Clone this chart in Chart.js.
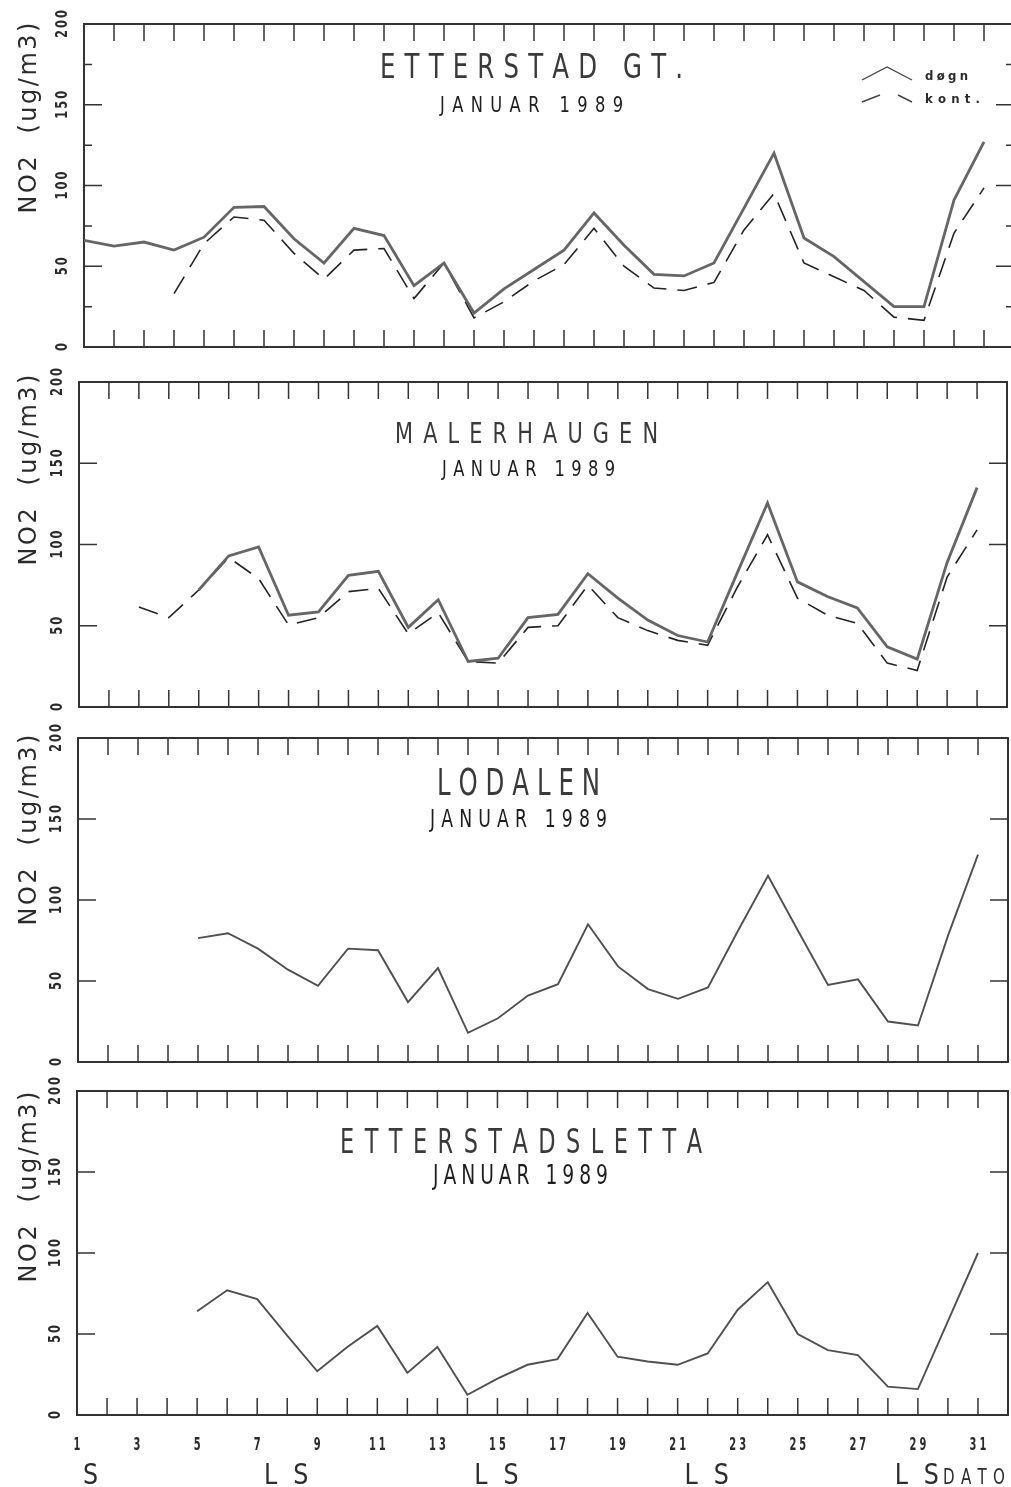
<!DOCTYPE html>
<html>
<head>
<meta charset="utf-8">
<script src="https://cdn.jsdelivr.net/npm/chart.js@4.4.1/dist/chart.umd.min.js"></script>
<style>
  html, body { margin: 0; padding: 0; background: #ffffff; }
  body { width: 1011px; height: 1487px; overflow: hidden; position: relative; }
  canvas { position: absolute; }
</style>
</head>
<body>
<canvas id="p1"></canvas>
<canvas id="p2"></canvas>
<canvas id="p3"></canvas>
<canvas id="p4"></canvas>
<script>
// Data (NO2, ug/m3, January 1989)
const days = [1, 2, 3, 4, 5, 6, 7, 8, 9, 10, 11, 12, 13, 14, 15, 16, 17, 18, 19, 20, 21, 22, 23, 24, 25, 26, 27, 28, 29, 30, 31];
const yTickLabels = [0, 50, 100, 150, 200];
const xTickLabels = [1, 3, 5, 7, 9, 11, 13, 15, 17, 19, 21, 23, 25, 27, 29, 31];
const weekendDays = [1, 7, 8, 14, 15, 21, 22, 28, 29];
const weekendLetters = ['S', 'L', 'S', 'L', 'S', 'L', 'S', 'L', 'S'];

const etterstadDogn = [66, 62.5, 65, 60, 68, 86.5, 87, 67, 52, 73.5, 69, 38, 52, 21, 36, 48, 60, 83, 63, 45, 44, 52, 86, 120, 67.5, 56, 40.5, 25, 25, 91, 127];
const etterstadKont = [null, null, null, 33, 64, 80.5, 78.5, 58, 42, 60, 61, 30, 52, 18, 28, 41, 51, 73.5, 50, 36.5, 35, 40, 72.5, 95, 52, 43.5, 35, 18.5, 16.5, 70.5, 98.5];
const malerDogn = [null, null, null, null, 72, 93, 98.5, 56.5, 58.5, 81, 83.5, 49, 66, 28, 30, 55, 57, 82, 67, 53.5, 44, 40, 83, 125.5, 77, 68, 61, 37, 29.5, 89, 135];
const malerKont = [null, null, 61.5, 55, 72, 92, 79, 50.5, 55, 71, 73, 45, 58, 28, 27, 49, 50, 75, 55, 47, 41, 38, 74, 106, 67, 56.5, 51.5, 27, 22.5, 80, 109];
const lodalenDogn = [null, null, null, null, 76.5, 79.5, 70, 57, 47, 70, 69, 37, 58, 18, 27, 41, 48, 85, 59, 45, 39, 46, 81, 115, 81, 47.5, 51, 25, 22.5, 78, 128];
const slettaDogn = [null, null, null, null, 64, 77, 71.5, 49, 27, 42, 55, 26, 42, 12.5, 22.5, 31, 34.5, 63, 36, 33, 31, 38, 65, 82, 50, 40, 37, 17.5, 16, 58, 100];

const FONT = "'DejaVu Sans', 'Liberation Sans', sans-serif";
const INK = '#2b2b2b';

const solid = (values, color, width) => ({ values, color, width, dash: [] });
const dashed = (values) => ({ values, color: '#242424', width: 1.6, dash: [20, 11] });

// page layout of the four panels (page pixels)
const panels = [
  { id: 'p1', left: 0, top: 0, width: 1030, height: 370, area: { l: 84, r: 1014, t: 24, b: 347 },
    title: ['ETTERSTAD GT.', 380, 683, 78, 34, 0.72], sub: ['JANUAR 1989', 440, 623, 112, 22, 0.74],
    minor: true, legend: true, axisY: 118,
    series: [solid(etterstadDogn, '#666666', 2.8), dashed(etterstadKont)] },
  { id: 'p2', left: 0, top: 360, width: 1011, height: 370, area: { l: 79, r: 1007, t: 382, b: 707 },
    title: ['MALERHAUGEN', 395, 658, 443, 29, 0.72], sub: ['JANUAR 1989', 442, 615, 476, 22, 0.74],
    minor: false, legend: false, axisY: 470,
    series: [solid(malerDogn, '#666666', 2.8), dashed(malerKont)] },
  { id: 'p3', left: 0, top: 715, width: 1011, height: 370, area: { l: 78, r: 1008, t: 738, b: 1062 },
    title: ['LODALEN', 437, 600, 795, 37, 0.66], sub: ['JANUAR 1989', 430, 607, 827, 24, 0.72],
    minor: false, legend: false, axisY: 830,
    series: [solid(lodalenDogn, '#505050', 1.9)] },
  { id: 'p4', left: 0, top: 1068, width: 1011, height: 419, area: { l: 77, r: 1008, t: 1091, b: 1415 },
    title: ['ETTERSTADSLETTA', 340, 702, 1153, 34, 0.66], sub: ['JANUAR 1989', 433, 608, 1184, 26, 0.72],
    minor: false, legend: false, axisY: 1187, xLabels: true,
    series: [solid(slettaDogn, '#505050', 1.9)] }
];

// draw text spread so it fills x0..x1
function spread(ctx, text, x0, x1, y, size, sx, weight) {
  ctx.font = (weight || 'normal') + ' ' + size + 'px ' + FONT;
  const chars = [...text];
  const w = chars.map(c => ctx.measureText(c).width * sx);
  const total = w.reduce((a, b) => a + b, 0);
  const gap = chars.length > 1 ? (x1 - x0 - total) / (chars.length - 1) : 0;
  let x = x0;
  chars.forEach((c, i) => {
    ctx.save(); ctx.translate(x, y); ctx.scale(sx, 1); ctx.fillText(c, 0, 0); ctx.restore();
    x += w[i] + gap;
  });
}

// draw text centred on cx with a fixed gap between letters
function centred(ctx, text, cx, y, size, sx, gap, weight) {
  ctx.font = (weight || 'normal') + ' ' + size + 'px ' + FONT;
  const chars = [...text];
  const w = chars.map(c => ctx.measureText(c).width * sx);
  const total = w.reduce((a, b) => a + b, 0) + gap * (chars.length - 1);
  spread(ctx, text, cx - total / 2, cx + total / 2, y, size, sx, weight);
}

function panelPlugin(p) {
  return {
    id: 'panel_' + p.id,
    beforeDatasetsDraw(chart) {
      const ctx = chart.ctx;
      const a = chart.chartArea;
      const xs = chart.scales.x, ys = chart.scales.y;
      const ox = p.left, oy = p.top;
      ctx.save();
      ctx.fillStyle = INK;
      ctx.strokeStyle = '#333';
      ctx.textAlign = 'left';
      ctx.textBaseline = 'alphabetic';

      // frame
      ctx.lineWidth = 2;
      ctx.strokeRect(a.left, a.top, a.right - a.left, a.bottom - a.top);

      // inward day ticks on top and bottom
      ctx.lineWidth = 1.5;
      ctx.beginPath();
      for (let d = 2; d <= 31; d++) {
        const x = xs.getPixelForValue(d);
        ctx.moveTo(x, a.top); ctx.lineTo(x, a.top + 17);
        ctx.moveTo(x, a.bottom); ctx.lineTo(x, a.bottom - 17);
      }
      // inward value ticks on both sides
      const step = p.minor ? 25 : 50;
      for (let v = step; v < 200; v += step) {
        const y = ys.getPixelForValue(v);
        const len = v % 50 === 0 ? 18 : 8;
        ctx.moveTo(a.left, y); ctx.lineTo(a.left + len, y);
        ctx.moveTo(a.right, y); ctx.lineTo(a.right - len, y);
      }
      ctx.stroke();

      // rotated value labels
      ctx.textBaseline = 'middle';
      yTickLabels.forEach(v => {
        ctx.save();
        ctx.translate(a.left - 21, ys.getPixelForValue(v));
        ctx.rotate(-Math.PI / 2);
        centred(ctx, String(v), 0, 0, 16, 0.72, 2, 'bold');
        ctx.restore();
      });

      // axis title
      ctx.textBaseline = 'alphabetic';
      ctx.save();
      ctx.translate(36 - ox, p.axisY - oy);
      ctx.rotate(-Math.PI / 2);
      centred(ctx, 'NO2  (ug/m3)', 0, 0, 24, 1, 2.5);
      ctx.restore();

      // station title and month
      ctx.fillStyle = '#3a3a3a';
      const [t, tx0, tx1, ty, tsz, tsx] = p.title;
      spread(ctx, t, tx0 - ox, tx1 - ox, ty - oy, tsz, tsx);
      ctx.fillStyle = '#1e1e1e';
      const [s, sx0, sx1, sy, ssz, ssx] = p.sub;
      spread(ctx, s, sx0 - ox, sx1 - ox, sy - oy, ssz, ssx);

      // legend
      if (p.legend) {
        ctx.strokeStyle = '#444';
        ctx.lineWidth = 1.4;
        ctx.beginPath();
        ctx.moveTo(862 - ox, 80 - oy); ctx.lineTo(887 - ox, 67 - oy); ctx.lineTo(912 - ox, 80 - oy);
        ctx.moveTo(862 - ox, 102 - oy); ctx.lineTo(880 - ox, 95 - oy);
        ctx.moveTo(898 - ox, 95 - oy); ctx.lineTo(912 - ox, 102 - oy);
        ctx.stroke();
        ctx.fillStyle = INK;
        spread(ctx, 'døgn', 925 - ox, 968 - ox, 80 - oy, 13, 0.9, 'bold');
        spread(ctx, 'kont.', 925 - ox, 980 - ox, 103 - oy, 13, 0.9, 'bold');
      }

      // day numbers and weekend letters under the last panel
      if (p.xLabels) {
        ctx.fillStyle = INK;
        ctx.textBaseline = 'alphabetic';
        xTickLabels.forEach(d => {
          centred(ctx, String(d), xs.getPixelForValue(d), 1450 - oy, 18, 0.55, 3, 'bold');
        });
        ctx.fillStyle = '#2e2e2e';
        weekendDays.forEach((d, i) => {
          centred(ctx, weekendLetters[i], xs.getPixelForValue(d + 0.45), 1484 - oy, 28, 0.85, 0);
        });
        spread(ctx, 'DATO', 943 - ox, 1005 - ox, 1484 - oy, 21, 0.72);
      }
      ctx.restore();
    }
  };
}

function makeChart(p) {
  const canvas = document.getElementById(p.id);
  canvas.width = p.width;
  canvas.height = p.height;
  canvas.style.left = p.left + 'px';
  canvas.style.top = p.top + 'px';
  new Chart(canvas, {
    type: 'line',
    data: {
      datasets: p.series.map(s => ({
        data: days.map((d, i) => ({ x: d, y: s.values[i] })),
        borderColor: s.color,
        borderWidth: s.width,
        borderDash: s.dash,
        pointRadius: 0,
        tension: 0,
        fill: false,
        spanGaps: false
      }))
    },
    options: {
      responsive: false,
      animation: false,
      devicePixelRatio: 1,
      layout: {
        padding: {
          left: p.area.l - p.left,
          right: p.left + p.width - p.area.r,
          top: p.area.t - p.top,
          bottom: p.top + p.height - p.area.b
        }
      },
      scales: {
        x: { type: 'linear', min: 1, max: 32, display: false },
        y: { min: 0, max: 200, display: false }
      },
      plugins: { legend: { display: false }, tooltip: { enabled: false } }
    },
    plugins: [panelPlugin(p)]
  });
}

panels.forEach(makeChart);
</script>
</body>
</html>
